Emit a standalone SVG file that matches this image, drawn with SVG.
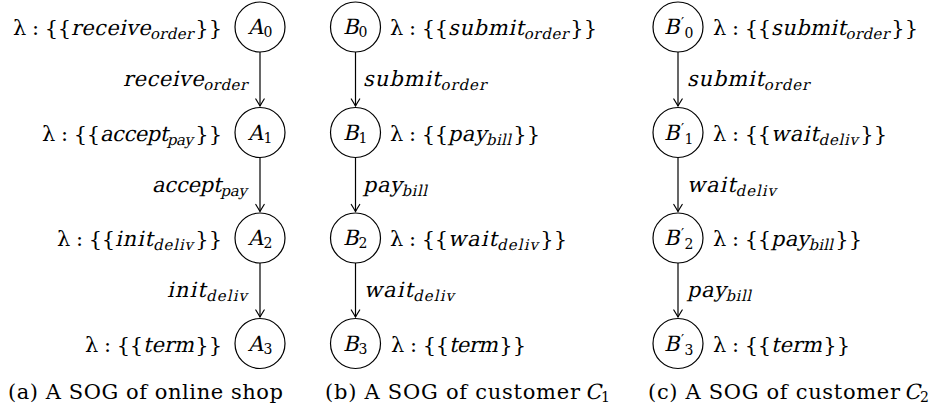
<svg xmlns="http://www.w3.org/2000/svg" width="941" height="412" viewBox="0 0 941 412">
<style>
text{font-family:"DejaVu Serif",serif;font-size:21px;fill:#000}
.s{font-size:15px}
.d{font-size:14px}
.p{font-size:14px}
.r{text-anchor:end}
circle{fill:#fff;stroke:#000;stroke-width:1.2}
.e line{stroke:#000;stroke-width:1.2}
</style>
<defs>
<marker id="ah" markerUnits="userSpaceOnUse" markerWidth="12" markerHeight="12" viewBox="-8 -6 10 12" refX="0" refY="0" orient="auto">
<path d="M-7,-4.2 Q-2.2,-1.2 0,0 Q-2.2,1.2 -7,4.2" fill="none" stroke="#000" stroke-width="1.2" stroke-linecap="round"/>
</marker>
</defs>

<g id="connectors" class="e">
<line x1="260" y1="52" x2="260" y2="106" marker-end="url(#ah)"/>
<line x1="260" y1="157.5" x2="260" y2="211.5" marker-end="url(#ah)"/>
<line x1="260" y1="263" x2="260" y2="317" marker-end="url(#ah)"/>
<line x1="355.5" y1="52" x2="355.5" y2="106" marker-end="url(#ah)"/>
<line x1="355.5" y1="157.5" x2="355.5" y2="211.5" marker-end="url(#ah)"/>
<line x1="355.5" y1="263" x2="355.5" y2="317" marker-end="url(#ah)"/>
<line x1="678" y1="52" x2="678" y2="106" marker-end="url(#ah)"/>
<line x1="678" y1="157.5" x2="678" y2="211.5" marker-end="url(#ah)"/>
<line x1="678" y1="263" x2="678" y2="317" marker-end="url(#ah)"/>
</g>

<g id="edge-labels">
<text transform="translate(248,86) skewX(-13)" text-anchor="end" textLength="125" lengthAdjust="spacing">receive<tspan class="s" dy="4">order</tspan></text>
<text transform="translate(248,191.5) skewX(-13)" text-anchor="end" textLength="96" lengthAdjust="spacing">accept<tspan class="s" dy="4">pay</tspan></text>
<text transform="translate(248,297) skewX(-13)" text-anchor="end" textLength="81" lengthAdjust="spacing">init<tspan class="s" dy="4">deliv</tspan></text>
<text transform="translate(363,86) skewX(-13)" textLength="124" lengthAdjust="spacing">submit<tspan class="s" dy="4">order</tspan></text>
<text transform="translate(363,191.5) skewX(-13)" textLength="65" lengthAdjust="spacing">pay<tspan class="s" dy="4">bill</tspan></text>
<text transform="translate(364,297) skewX(-13)" textLength="91" lengthAdjust="spacing">wait<tspan class="s" dy="4">deliv</tspan></text>
<text transform="translate(687,86) skewX(-13)" textLength="123" lengthAdjust="spacing">submit<tspan class="s" dy="4">order</tspan></text>
<text transform="translate(687,191.5) skewX(-13)" textLength="90" lengthAdjust="spacing">wait<tspan class="s" dy="4">deliv</tspan></text>
<text transform="translate(687,297) skewX(-13)" textLength="65" lengthAdjust="spacing">pay<tspan class="s" dy="4">bill</tspan></text>
</g>

<g id="A0">
<circle cx="260" cy="27" r="25"/>
<text transform="translate(248,34) skewX(-13)">A</text><text class="d" x="263.5" y="37">0</text>
<text x="13" y="35" textLength="58" lengthAdjust="spacing">λ : {{</text>
<text transform="translate(71,35) skewX(-13)" textLength="123" lengthAdjust="spacing">receive<tspan class="s" dy="4">order</tspan></text>
<text class="r" x="222" y="35">}}</text>
</g>
<g id="A1">
<circle cx="260" cy="132.5" r="25"/>
<text transform="translate(248,139.5) skewX(-13)">A</text><text class="d" x="263.5" y="142.5">1</text>
<text x="42" y="140.5" textLength="58" lengthAdjust="spacing">λ : {{</text>
<text transform="translate(100,140.5) skewX(-13)" textLength="94" lengthAdjust="spacing">accept<tspan class="s" dy="4">pay</tspan></text>
<text class="r" x="222" y="140.5">}}</text>
</g>
<g id="A2">
<circle cx="260" cy="238" r="25"/>
<text transform="translate(248,245) skewX(-13)">A</text><text class="d" x="263.5" y="248">2</text>
<text x="57" y="246" textLength="58" lengthAdjust="spacing">λ : {{</text>
<text transform="translate(115,246) skewX(-13)" textLength="79" lengthAdjust="spacing">init<tspan class="s" dy="4">deliv</tspan></text>
<text class="r" x="222" y="246">}}</text>
</g>
<g id="A3">
<circle cx="260" cy="343.5" r="25"/>
<text transform="translate(248,350.5) skewX(-13)">A</text><text class="d" x="263.5" y="353.5">3</text>
<text x="85" y="351.5" textLength="58" lengthAdjust="spacing">λ : {{</text>
<text transform="translate(143,351.5) skewX(-13)" textLength="51" lengthAdjust="spacing">term</text>
<text class="r" x="222" y="351.5">}}</text>
</g>

<g id="B0">
<circle cx="355.5" cy="27" r="25"/>
<text transform="translate(343,34) skewX(-13)">B</text><text class="d" x="358.5" y="37">0</text>
<text x="390" y="35" textLength="58" lengthAdjust="spacing">λ : {{</text>
<text transform="translate(448,35) skewX(-13)" textLength="121" lengthAdjust="spacing">submit<tspan class="s" dy="4">order</tspan></text>
<text class="r" x="597" y="35">}}</text>
</g>
<g id="B1">
<circle cx="355.5" cy="132.5" r="25"/>
<text transform="translate(343,139.5) skewX(-13)">B</text><text class="d" x="358.5" y="142.5">1</text>
<text x="390" y="140.5" textLength="58" lengthAdjust="spacing">λ : {{</text>
<text transform="translate(448,140.5) skewX(-13)" textLength="64" lengthAdjust="spacing">pay<tspan class="s" dy="4">bill</tspan></text>
<text class="r" x="540" y="140.5">}}</text>
</g>
<g id="B2">
<circle cx="355.5" cy="238" r="25"/>
<text transform="translate(343,245) skewX(-13)">B</text><text class="d" x="358.5" y="248">2</text>
<text x="390" y="246" textLength="58" lengthAdjust="spacing">λ : {{</text>
<text transform="translate(448,246) skewX(-13)" textLength="91" lengthAdjust="spacing">wait<tspan class="s" dy="4">deliv</tspan></text>
<text class="r" x="567" y="246">}}</text>
</g>
<g id="B3">
<circle cx="355.5" cy="343.5" r="25"/>
<text transform="translate(343,350.5) skewX(-13)">B</text><text class="d" x="358.5" y="353.5">3</text>
<text x="391" y="351.5" textLength="58" lengthAdjust="spacing">λ : {{</text>
<text transform="translate(449,351.5) skewX(-13)" textLength="49" lengthAdjust="spacing">term</text>
<text class="r" x="526" y="351.5">}}</text>
</g>

<g id="B0p">
<circle cx="678" cy="27" r="25"/>
<text transform="translate(664,34) skewX(-13)">B</text><text class="p" x="681" y="28">′</text><text class="d" x="684.5" y="38">0</text>
<text x="713" y="35" textLength="58" lengthAdjust="spacing">λ : {{</text>
<text transform="translate(771,35) skewX(-13)" textLength="119" lengthAdjust="spacing">submit<tspan class="s" dy="4">order</tspan></text>
<text class="r" x="918" y="35">}}</text>
</g>
<g id="B1p">
<circle cx="678" cy="132.5" r="25"/>
<text transform="translate(664,139.5) skewX(-13)">B</text><text class="p" x="681" y="133.5">′</text><text class="d" x="684.5" y="143.5">1</text>
<text x="713" y="140.5" textLength="58" lengthAdjust="spacing">λ : {{</text>
<text transform="translate(771,140.5) skewX(-13)" textLength="88" lengthAdjust="spacing">wait<tspan class="s" dy="4">deliv</tspan></text>
<text class="r" x="887" y="140.5">}}</text>
</g>
<g id="B2p">
<circle cx="678" cy="238" r="25"/>
<text transform="translate(664,245) skewX(-13)">B</text><text class="p" x="681" y="239">′</text><text class="d" x="684.5" y="249">2</text>
<text x="713" y="246" textLength="58" lengthAdjust="spacing">λ : {{</text>
<text transform="translate(771,246) skewX(-13)" textLength="63" lengthAdjust="spacing">pay<tspan class="s" dy="4">bill</tspan></text>
<text class="r" x="862" y="246">}}</text>
</g>
<g id="B3p">
<circle cx="678" cy="343.5" r="25"/>
<text transform="translate(664,350.5) skewX(-13)">B</text><text class="p" x="681" y="344.5">′</text><text class="d" x="684.5" y="354.5">3</text>
<text x="713" y="351.5" textLength="58" lengthAdjust="spacing">λ : {{</text>
<text transform="translate(771,351.5) skewX(-13)" textLength="51" lengthAdjust="spacing">term</text>
<text class="r" x="850" y="351.5">}}</text>
</g>

<g id="captions">
<text x="8" y="399" textLength="275" lengthAdjust="spacing">(a) A SOG of online shop</text>
<text x="325" y="399" textLength="255" lengthAdjust="spacing">(b) A SOG of customer</text>
<text transform="translate(585,399) skewX(-13)">C</text><text class="d" x="601" y="402">1</text>
<text x="648" y="399" textLength="252" lengthAdjust="spacing">(c) A SOG of customer</text>
<text transform="translate(904,399) skewX(-13)">C</text><text class="d" x="920" y="402">2</text>
</g>
</svg>
